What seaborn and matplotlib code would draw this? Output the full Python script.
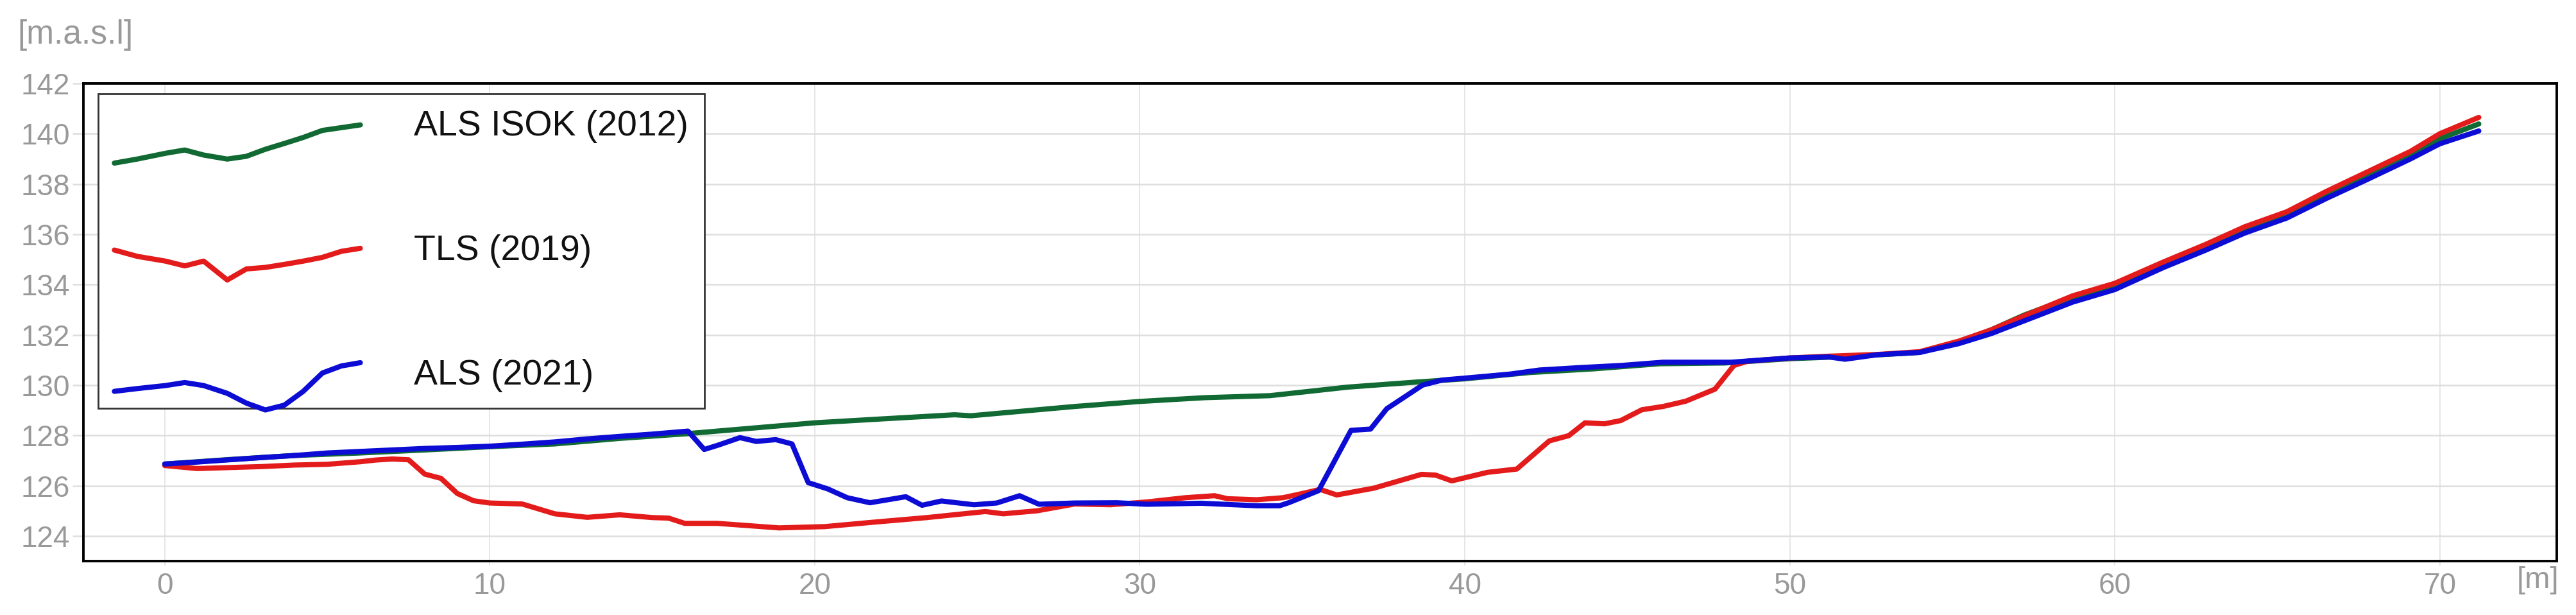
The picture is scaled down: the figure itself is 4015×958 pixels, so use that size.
import numpy as np
import pandas as pd
import matplotlib
matplotlib.use("Agg")
import matplotlib.pyplot as plt
import seaborn as sns
from matplotlib.legend_handler import HandlerBase
from matplotlib.lines import Line2D

# surveys, drawn in this order (blue ends on top)
series_names = ["ALS ISOK (2012)", "TLS (2019)", "ALS (2021)"]
series_colors = ["#116a33", "#e31b1b", "#0c0cd4"]

# profile points: (distance [m], elevation [m a.s.l.])
als_isok_2012 = [
    (0, 126.86), (2, 127.04), (4, 127.2), (6, 127.3), (8, 127.42), (10, 127.55),
    (12, 127.66), (14, 127.88), (16, 128.06), (18, 128.28), (20, 128.5), (22, 128.65),
    (24.3, 128.82), (24.8, 128.78), (26.7, 129.0), (28, 129.15), (30, 129.35),
    (32, 129.5), (34, 129.58), (36.4, 129.92), (38.5, 130.12), (40, 130.25),
    (42, 130.5), (44, 130.65), (46, 130.85), (48, 130.88), (50, 131.05), (52, 131.15),
    (54, 131.3), (55.2, 131.72), (56.2, 132.2), (57.2, 132.78), (58.7, 133.5),
    (60, 133.95), (61.5, 134.85), (62.8, 135.55), (64, 136.25), (65.3, 136.85),
    (66.5, 137.62), (67.8, 138.42), (69.1, 139.22), (70, 139.8), (71.2, 140.39),
]

tls_2019 = [
    (0, 126.8), (0.5, 126.74), (1, 126.68), (2, 126.72), (3, 126.76), (4, 126.82),
    (5, 126.85), (6, 126.95), (6.5, 127.02), (7, 127.06), (7.5, 127.03), (8, 126.46),
    (8.5, 126.29), (9, 125.69), (9.5, 125.4), (10, 125.31), (11, 125.27), (12, 124.88),
    (13, 124.74), (14, 124.84), (15, 124.73), (15.5, 124.71), (16, 124.5), (17, 124.5),
    (18.9, 124.32), (20.3, 124.37), (21.75, 124.54), (23.45, 124.73), (25.25, 124.97),
    (25.8, 124.88), (26.84, 125.0), (28, 125.27), (29.1, 125.24), (30.2, 125.35),
    (31.4, 125.52), (32.3, 125.6), (32.7, 125.48), (33.6, 125.44), (34.4, 125.52),
    (34.8, 125.63), (35.55, 125.85), (36.06, 125.63), (37.2, 125.9), (38.67, 126.45),
    (39.1, 126.42), (39.6, 126.19), (40.7, 126.53), (41.6, 126.66), (42.6, 127.78),
    (43.2, 127.99), (43.7, 128.5), (44.3, 128.46), (44.8, 128.59), (45.45, 129.02),
    (46.1, 129.15), (46.8, 129.36), (47.7, 129.84), (48.28, 130.78), (48.7, 130.95),
    (50, 131.08), (51.2, 131.15), (52.7, 131.22), (54, 131.33), (55.2, 131.75),
    (56.2, 132.2), (57.2, 132.75), (58.7, 133.55), (60, 134.05), (61.5, 134.9),
    (62.8, 135.6), (64, 136.3), (65.3, 136.9), (66.5, 137.7), (67.8, 138.5),
    (69.1, 139.3), (70, 140.0), (71.2, 140.65),
]

als_2021 = [
    (0, 126.86), (1, 126.94), (2, 127.03), (3, 127.12), (4, 127.2), (5, 127.3),
    (6, 127.36), (7, 127.42), (8, 127.48), (9, 127.52), (10, 127.57), (11, 127.65),
    (12, 127.74), (13, 127.86), (14, 127.96), (15, 128.05), (16.1, 128.17),
    (16.6, 127.44), (17.0, 127.6), (17.7, 127.91), (18.2, 127.76), (18.8, 127.83),
    (19.3, 127.66), (19.8, 126.12), (20.4, 125.87), (21.0, 125.52), (21.7, 125.32),
    (22.8, 125.56), (23.3, 125.22), (23.9, 125.39), (24.9, 125.24), (25.6, 125.31),
    (26.3, 125.6), (26.9, 125.26), (28, 125.31), (29.3, 125.32), (30.2, 125.26),
    (31.9, 125.3), (33.6, 125.2), (34.3, 125.2), (34.6, 125.33), (35.5, 125.8),
    (36.5, 128.2), (37.1, 128.25), (37.6, 129.06), (38.7, 130.0), (39.3, 130.2),
    (40.2, 130.3), (41.4, 130.44), (42.3, 130.6), (43.6, 130.7), (44.8, 130.78),
    (46.1, 130.91), (48.2, 130.91), (50, 131.08), (51.2, 131.12), (51.7, 131.03),
    (52.7, 131.21), (54, 131.3), (55.2, 131.65), (56.2, 132.05), (57.2, 132.55),
    (58.7, 133.3), (60, 133.8), (61.5, 134.68), (62.8, 135.37), (64, 136.05),
    (65.3, 136.65), (66.5, 137.42), (67.8, 138.2), (69.1, 139.0), (70, 139.6),
    (71.2, 140.11),
]

x_ticks = [0, 10, 20, 30, 40, 50, 60, 70]
y_ticks = [124, 126, 128, 130, 132, 134, 136, 138, 140, 142]
x_limits = (-2.5, 73.6)
y_limits = (123, 142)

# little profile sketches used as legend keys (fraction along key, elevation)
glyph_frac = [0, 0.093, 0.208, 0.286, 0.363, 0.459, 0.537, 0.614, 0.691, 0.768, 0.846, 0.923, 1]
glyph_isok = [138.82, 138.98, 139.21, 139.34, 139.14, 138.98, 139.09, 139.37, 139.6, 139.84, 140.12, 140.23, 140.34]
glyph_tls = [135.43, 135.18, 134.99, 134.8, 134.99, 134.24, 134.68, 134.74, 134.86, 134.99, 135.14, 135.38, 135.5]
glyph_als = [129.75, 129.86, 129.98, 130.1, 129.98, 129.67, 129.28, 129.01, 129.2, 129.75, 130.48, 130.76, 130.89]
label_levels = [140.43, 135.54, 130.52]

frames = []
for name, prof in zip(series_names, [als_isok_2012, tls_2019, als_2021]):
    d = pd.DataFrame(prof, columns=["distance", "elevation"])
    d["survey"] = name
    frames.append(d)
df = pd.concat(frames, ignore_index=True)

sns.set_theme(style="whitegrid")
plt.rcParams["font.family"] = ["Liberation Sans", "DejaVu Sans"]

grey_text = "#999999"
grid_col = "#dedede"

fig = plt.figure(figsize=(40.16, 9.58), dpi=100)
ax_rect = [0.0324, 0.0877, 0.9599, 0.7766]
ax = fig.add_axes(ax_rect)
ax.set_facecolor("white")

sns.lineplot(data=df, x="distance", y="elevation", hue="survey",
             hue_order=series_names, palette=series_colors,
             estimator=None, sort=False, linewidth=5.8, legend=False, ax=ax,
             solid_joinstyle="round", solid_capstyle="round")

ax.set_xlim(*x_limits)
ax.set_ylim(*y_limits)
ax.set_xticks(x_ticks)
ax.set_yticks(y_ticks)
ax.set_xlabel("")
ax.set_ylabel("")

ax.yaxis.grid(True, color=grid_col, linewidth=1.8)
ax.xaxis.grid(True, color="#e4e4e4", linewidth=1.3)
ax.tick_params(axis="y", length=12, width=1.8, color=grid_col, pad=3,
               labelsize=33, labelcolor=grey_text, left=True)
ax.tick_params(axis="x", length=5, width=1.3, color="#e4e4e4", pad=7,
               labelsize=33, labelcolor=grey_text, bottom=True)
for s in ax.spines.values():
    s.set_visible(True)
    s.set_color("black")
    s.set_linewidth(2.8)

# legend keys drawn as small profile sketches
pt_per_m = fig.get_figheight() * 72 * ax_rect[3] / (y_limits[1] - y_limits[0])


class ProfileGlyph(HandlerBase):
    def __init__(self, heights, level):
        super().__init__()
        self.heights = np.asarray(heights)
        self.level = level

    def create_artists(self, legend, orig_handle, xdescent, ydescent,
                       width, height, fontsize, trans):
        xs = -xdescent + np.asarray(glyph_frac) * width
        ys = 0.36 * fontsize + (self.heights - self.level) * pt_per_m
        line = Line2D(xs, ys, color=orig_handle.get_color(),
                      linewidth=orig_handle.get_linewidth(),
                      solid_joinstyle="round", solid_capstyle="round")
        line.set_transform(trans)
        return [line]


handles = ax.lines[:3]
glyphs = [glyph_isok, glyph_tls, glyph_als]
hmap = {h: ProfileGlyph(g, lv) for h, g, lv in zip(handles, glyphs, label_levels)}
leg = ax.legend(handles, series_names, handler_map=hmap, loc="upper left",
                bbox_to_anchor=(0.006, 0.9785), borderaxespad=0,
                frameon=True, fancybox=False, edgecolor="#333333", framealpha=1,
                prop={"family": "Liberation Sans", "size": 40},
                handlelength=6.9, handletextpad=1.5, labelspacing=2.56,
                borderpad=0.45)
leg.get_frame().set_linewidth(2)
for t in leg.get_texts():
    t.set_color("#111111")

fig.text(27 / 4016, 0.9436, "[m.a.s.l]", fontsize=37, color=grey_text, va="center", ha="left")
fig.text(3988 / 4016, 0.056, "[m]", fontsize=34, color=grey_text, va="center", ha="right")

fig.savefig("out.png", dpi=100, facecolor="white")
